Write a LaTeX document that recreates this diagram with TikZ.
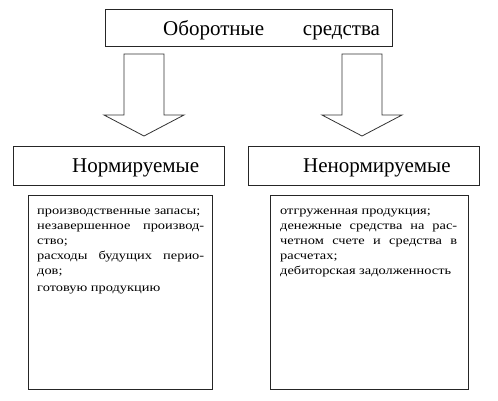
\documentclass[tikz,border=0pt]{standalone}
\usepackage{fontspec}
\setmainfont{Liberation Serif}
\newfontfamily\listfont[FakeStretch=1.22]{Liberation Serif}
\begin{document}
\begin{tikzpicture}[x=1pt,y=-1pt,
  box/.style={draw=black!85,line width=0.9pt},
  blockarrow/.style={draw=black!80,line width=0.8pt,fill=white},
  big/.style={font=\fontsize{21}{24}\selectfont,inner sep=0pt,anchor=base west},
  listtext/.style={font=\listfont\fontsize{11.8}{15.2}\selectfont,inner sep=0pt,anchor=base west,text width=167pt,align=justify}]
\useasboundingbox (0,0) rectangle (498,400);
% top box
\draw[box] (105,9) rectangle (392,46);
\node[big] (top) at (163,35) {Оборотные\hspace{1.85em}средства};
% block arrows
\coordinate (la) at (144,54);
\coordinate (ra) at (362,54);
\foreach \c in {la,ra}{
  \draw[blockarrow] ([xshift=-20pt]\c) -- ([xshift=20pt]\c) -- ([xshift=20pt,yshift=-61pt]\c)
    -- ([xshift=40pt,yshift=-61pt]\c) -- ([yshift=-82pt]\c) -- ([xshift=-40pt,yshift=-61pt]\c)
    -- ([xshift=-20pt,yshift=-61pt]\c) -- cycle;
}
% category boxes
\draw[box] (13,146) rectangle (224,185);
\node[big] (norm) at (72,172) {Нормируемые};
\draw[box] (248,146) rectangle (479,185);
\node[big] (nenorm) at (303,172) {Ненормируемые};
% list boxes
\draw[box] (28,195) rectangle (212,389);
\draw[box] (270,195) rectangle (468,389);
\node[listtext] (l1) at (37,214) {%
производственные запасы;\\
\makebox[\linewidth][s]{незавершенное производ-}\\
ство;\\
\makebox[\linewidth][s]{расходы будущих перио-}\\
дов;\\[1pt]
\hspace{0.3em}готовую продукцию};
\node[listtext,text width=177pt] (l2) at (280,214) {%
отгруженная продукция;\\
\makebox[\linewidth][s]{денежные средства на рас-}\\
\makebox[\linewidth][s]{четном счете и средства в}\\
расчетах;\\
дебиторская задолженность};
\end{tikzpicture}
\end{document}
